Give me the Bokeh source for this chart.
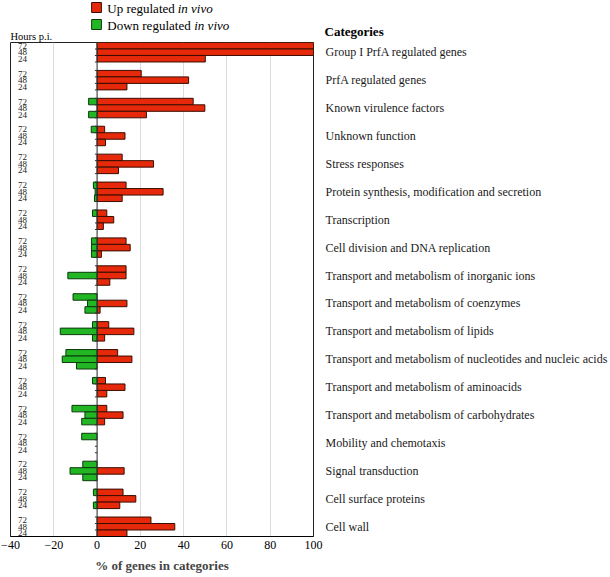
from bokeh.plotting import figure
from bokeh.layouts import column
from bokeh.models import Range1d, FixedTicker, Span
from bokeh.core.properties import value
from bokeh.embed import file_html
from bokeh.resources import INLINE

# ---------------- data ----------------
categories = [
    "Group I PrfA regulated genes",
    "PrfA regulated genes",
    "Known virulence factors",
    "Unknown function",
    "Stress responses",
    "Protein synthesis, modification and secretion",
    "Transcription",
    "Cell division and DNA replication",
    "Transport and metabolism of inorganic ions",
    "Transport and metabolism of coenzymes",
    "Transport and metabolism of lipids",
    "Transport and metabolism of nucleotides and nucleic acids",
    "Transport and metabolism of aminoacids",
    "Transport and metabolism of carbohydrates",
    "Mobility and chemotaxis",
    "Signal transduction",
    "Cell surface proteins",
    "Cell wall",
]
hours = ["72", "48", "24"]

up_72 = [100, 20.4, 44.4, 3.5, 11.6, 13.4, 4.5, 13.4, 13.4, 0, 5.4, 9.5, 3.9, 4.5, 0, 0, 12.0, 24.9]
up_48 = [100, 42.3, 49.8, 12.9, 26.1, 30.5, 7.7, 15.3, 13.4, 13.8, 17.0, 16.1, 12.9, 12.0, 0, 12.5, 17.9, 35.9]
up_24 = [50, 13.8, 22.8, 3.9, 9.9, 11.6, 2.9, 2.0, 5.9, 1.4, 3.5, 0, 4.5, 3.5, 0, 0, 10.5, 13.8]

down_72 = [0, 0, -3.9, -2.7, 0, -1.7, -2.1, -2.6, 0, -11.1, -2.1, -14.4, -2.1, -11.6, -7.1, -6.6, -1.7, 0]
down_48 = [0, 0, 0, 0, 0, -0.9, 0, -2.6, -13.5, -4.4, -17.0, -16.1, 0, -5.6, 0, -12.5, 0, 0]
down_24 = [0, 0, -3.9, 0, 0, -1.2, 0, -2.6, 0, -5.6, -2.1, -9.5, 0, -7.1, 0, -6.6, -1.7, 0]

x_ticks = [-40, -20, 0, 20, 40, 60, 80, 100]

legend_labels = [("Up regulated", "in vivo"), ("Down regulated", "in vivo")]

UP_COLOR = "#E5290A"
DOWN_COLOR = "#22B524"
UP_LINE = "#3a0d00"
DOWN_LINE = "#0b3a0b"
SERIF = "Liberation Serif"

# ---------------- bar layout ----------------
BAR = 10
GAP = 13
STEP = 3 * BAR + GAP
n = len(categories)
TOTAL = (n - 1) * STEP + 3 * BAR

ups = [up_72, up_48, up_24]
downs = [down_72, down_48, down_24]

up_y, up_r = [], []
dn_y, dn_l = [], []
hr_y, hr_t = [], []
cat_pos = []
edges = []
for i in range(n):
    cat_pos.append(TOTAL - (i * STEP + 3 * BAR // 2))
    for k in range(4):
        e = TOTAL - (i * STEP + k * BAR)
        if e < TOTAL:
            edges.append(e)
    for j in range(3):
        y = TOTAL - (i * STEP + j * BAR + BAR // 2)
        hr_y.append(y)
        hr_t.append(hours[j])
        if ups[j][i] != 0:
            up_y.append(y)
            up_r.append(ups[j][i])
        if downs[j][i] != 0:
            dn_y.append(y)
            dn_l.append(downs[j][i])

W = 610
LEFT = 10
RIGHT = 290
FRAME_R = W - RIGHT

# ---------------- header strip (legend + headings) ----------------
HEAD_H = 42
h = figure(width=W, height=HEAD_H, x_range=Range1d(LEFT, FRAME_R), y_range=Range1d(HEAD_H, 0),
           output_backend="svg", toolbar_location=None,
           x_axis_location=None, y_axis_location="right",
           min_border_left=LEFT, min_border_right=RIGHT, min_border_top=0, min_border_bottom=0)
h.grid.visible = False
h.outline_line_color = None

h.quad(left=[93, 93], right=[103, 103], top=[2, 19], bottom=[12, 29],
       fill_color=[UP_COLOR, DOWN_COLOR], line_color=[UP_LINE, DOWN_LINE], line_width=1)
h.text(x=[109, 109], y=[8, 25], text=[a for a, b in legend_labels],
       text_font=value(SERIF), text_font_size="13px", text_baseline="middle",
       text_align="left", text_color="black")
h.text(x=[181, 198], y=[8, 25], text=[b for a, b in legend_labels],
       text_font=value(SERIF), text_font_size="13px", text_font_style="italic",
       text_baseline="middle", text_align="left", text_color="black")
h.text(x=[LEFT], y=[36], text=["Hours p.i."], text_font=value(SERIF), text_font_size="10.5px",
       text_baseline="middle", text_align="left", text_color="black")

# "Categories" heading sits above the category column -> header's right axis label
hy = h.yaxis[0]
hy.ticker = FixedTicker(ticks=[31])
hy.major_label_overrides = {31: "Categories"}
hy.major_label_text_font = SERIF
hy.major_label_text_font_size = "13px"
hy.major_label_text_font_style = "bold"
hy.major_label_text_color = "black"
hy.axis_line_color = None
hy.major_tick_line_color = None
hy.minor_tick_line_color = None
hy.major_label_standoff = 5

# ---------------- main chart ----------------
p = figure(width=W, height=577 - HEAD_H,
           x_range=Range1d(-40, 100), y_range=Range1d(0, TOTAL),
           output_backend="svg", toolbar_location=None,
           y_axis_location="right",
           min_border_left=LEFT, min_border_right=RIGHT,
           min_border_top=0, min_border_bottom=41)

p.outline_line_color = "#222222"
p.outline_line_width = 1

p.xgrid.grid_line_color = "#dcdcdc"
p.xgrid.grid_line_width = 1
p.ygrid.grid_line_color = None

p.hbar(y=up_y, height=BAR, left=0, right=up_r,
       fill_color=UP_COLOR, line_color=UP_LINE, line_width=1)
p.hbar(y=dn_y, height=BAR, left=dn_l, right=0,
       fill_color=DOWN_COLOR, line_color=DOWN_LINE, line_width=1)

p.add_layout(Span(location=0, dimension="height", line_color="#333333", line_width=1))

# small ticks on the zero line at every bar edge
p.segment(x0=[-1.0] * len(edges), x1=[0] * len(edges), y0=edges, y1=edges,
          line_color="#333333", line_width=1)

p.text(x=[-34.5] * len(hr_y), y=hr_y, text=hr_t,
       text_font=value(SERIF), text_font_size="9px",
       text_align="center", text_baseline="middle", text_color="#222222")

xa = p.xaxis[0]
xa.ticker = FixedTicker(ticks=x_ticks)
xa.major_label_text_font = SERIF
xa.major_label_text_font_size = "12px"
xa.major_label_text_color = "black"
xa.major_tick_out = 0
xa.major_tick_in = 0
xa.minor_tick_line_color = None
xa.major_label_standoff = 4
xa.axis_line_color = "black"
xa.axis_label = "% of genes in categories"
xa.axis_label_text_font = SERIF
xa.axis_label_text_font_size = "13px"
xa.axis_label_text_font_style = "bold"
xa.axis_label_standoff = 6

ya = p.yaxis[0]
ya.ticker = FixedTicker(ticks=cat_pos)
ya.major_label_overrides = {pos: cat for pos, cat in zip(cat_pos, categories)}
ya.major_label_text_font = SERIF
ya.major_label_text_font_size = "12px"
ya.major_label_text_color = "#1a1a1a"
ya.axis_line_color = None
ya.major_tick_line_color = None
ya.minor_tick_line_color = None
ya.major_label_standoff = 6

layout = column(h, p, spacing=0)
open("out.html", "w").write(file_html(layout, INLINE))
